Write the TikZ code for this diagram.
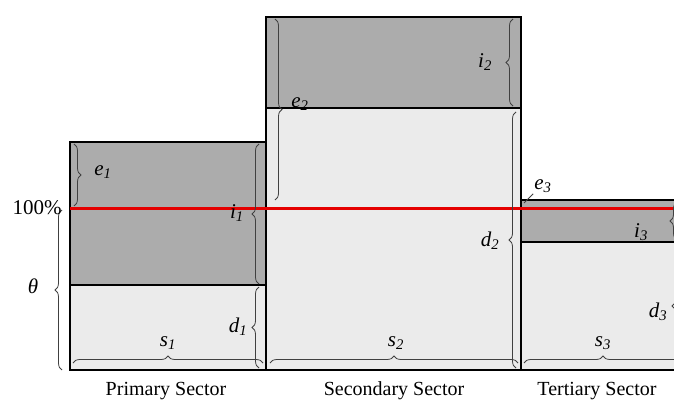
\documentclass[tikz,border=0pt]{standalone}
\usepackage{fontspec}
\setmainfont{Liberation Serif}
\usetikzlibrary{decorations.pathreplacing, positioning}
\newcommand{\sect}[2]{\textit{#1}\textsubscript{\textit{#2}}}

\begin{document}
\begin{tikzpicture}[x=1pt, y=-1pt,
		imported/.style={fill=gray!65, draw=black, line width=2.2pt},
		domestic/.style={fill=gray!16, draw=black, line width=2.2pt},
		curly/.style={decorate, decoration={brace, amplitude=7pt}, draw=black!75, line width=0.8pt},
		tag/.style={font=\fontsize{21}{23}\selectfont, inner sep=1pt},
		sectorname/.style={font=\fontsize{20}{22}\selectfont, inner sep=1pt},
		level/.style={draw=red!90!black, line width=3pt}
		]
		\useasboundingbox (0,0) rectangle (674,406);
		\clip (0,0) rectangle (674,406);
		
		% sector blocks
		\draw[domestic] (70,285) rectangle (266,370);
		\draw[imported] (70,142) rectangle (266,285);
		\draw[domestic] (266,108) rectangle (521,370);
		\draw[imported] (266,17) rectangle (521,108);
		\draw[domestic] (521,242) rectangle (690,370);
		\draw[imported] (521,200) rectangle (690,242);
		
		% 100% level
		\coordinate (l0) at (70,208);
		\coordinate (l1) at (674,208);
		\draw[level] (l0) -- (l1);
		
		% primary sector
		\draw[curly] (74,144) -- (74,206);
		\draw[curly] (62,370) -- (62,210);
		\draw[curly] (259,284) -- (259,144);
		\draw[curly] (259,368) -- (259,287);
		\draw[curly] (73,363) -- (263,363);
		\node[tag] (pct) at (37,208) {100\%};
		\node[tag] (theta) at (33,286) {\textit{θ}};
		\node[tag] (e1) at (103,172) {\sect{e}{1}};
		\node[tag] (i1) at (237,213) {\sect{i}{1}};
		\node[tag] (d1) at (238,327) {\sect{d}{1}};
		\node[tag] (s1) at (168,343) {\sect{s}{1}};
		
		% secondary sector
		\draw[curly] (275,19) -- (275,200);
		\draw[curly] (513,106) -- (513,19);
		\draw[curly] (516,368) -- (516,112);
		\draw[curly] (270,363) -- (518,363);
		\node[tag] (e2) at (300,104) {\sect{e}{2}};
		\node[tag] (i2) at (485,62) {\sect{i}{2}};
		\node[tag] (d2) at (490,241) {\sect{d}{2}};
		\node[tag] (s2) at (396,343) {\sect{s}{2}};
		
		% tertiary sector
		\coordinate (c3) at (524,203);
		\node[tag] (e3) at (543,186) {\sect{e}{3}};
		\draw[black!75, line width=0.8pt] (c3) -- (e3.south west);
		\draw[curly] (677,240) -- (677,202);
		\draw[curly] (679,368) -- (679,244);
		\draw[curly] (524,363) -- (682,363);
		\node[tag] (i3) at (641,232) {\sect{i}{3}};
		\node[tag] (d3) at (658,312) {\sect{d}{3}};
		\node[tag] (s3) at (603,343) {\sect{s}{3}};
		
		% sector names
		\node[sectorname] (prim) at (166,391) {Primary Sector};
		\node[sectorname] (sec) at (394,391) {Secondary Sector};
		\node[sectorname] (ter) at (597,391) {Tertiary Sector};
	\end{tikzpicture}
\end{document}
